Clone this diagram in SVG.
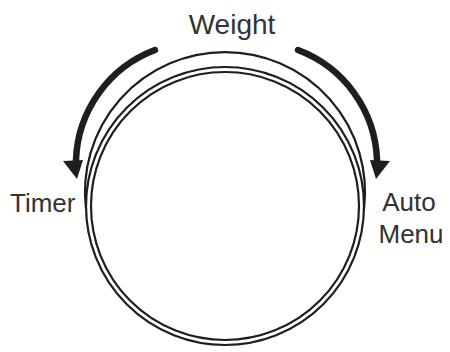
<svg xmlns="http://www.w3.org/2000/svg" width="450" height="352" viewBox="0 0 450 352">
<style>
.ln{fill:none;stroke:#1e1e1e;stroke-width:2.2}
.arw{fill:none;stroke:#1e1e1e;stroke-width:6.5;stroke-linecap:round}
.head{fill:#1e1e1e}
.lbl{font-family:"Liberation Sans",Arial,sans-serif;fill:#333;font-size:26px}
</style>
<rect width="450" height="352" fill="#fff"/>
<g id="knob">
<path class="ln" d="M86.03,209 A140 140 0 1 1 363.97,209"/>
<circle class="ln" cx="225" cy="206" r="139"/>
<circle class="ln" cx="225" cy="206" r="134"/>
</g>
<g id="connectors">
<path class="arw" d="M155,50 A122 122 0 0 0 76,160"/>
<polygon class="head" points="63,161 83,160 77,179"/>
<path class="arw" d="M298,50 A122 122 0 0 1 377,160"/>
<polygon class="head" points="390,161 370,160 376,179"/>
</g>
<g id="weight"><text class="lbl" x="232" y="34" text-anchor="middle" style="font-size:28px">Weight</text></g>
<g id="timer"><text class="lbl" x="10" y="212">Timer</text></g>
<g id="automenu"><text class="lbl" x="409" y="211" text-anchor="middle">Auto</text><text class="lbl" x="411" y="243" text-anchor="middle">Menu</text></g>
</svg>
